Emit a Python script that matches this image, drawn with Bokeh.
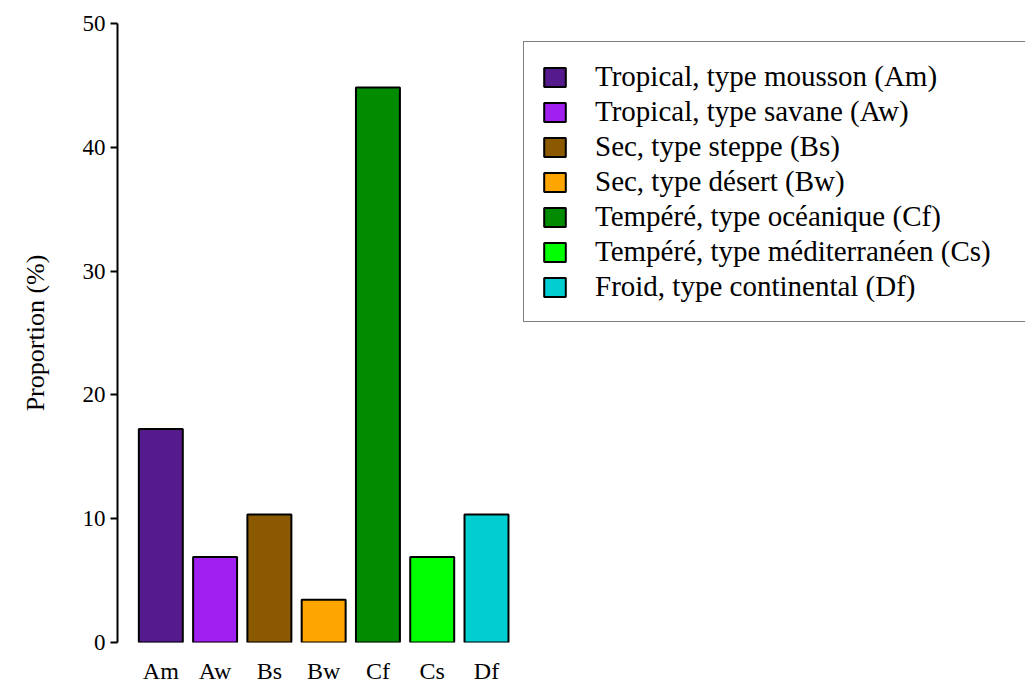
from bokeh.plotting import figure
from bokeh.models import (Range1d, FixedTicker, Legend, LegendItem,
                          ColumnDataSource)
from bokeh.embed import file_html
from bokeh.resources import INLINE

# ---- data ----
codes = ["Am", "Aw", "Bs", "Bw", "Cf", "Cs", "Df"]
values = [17.24, 6.90, 10.34, 3.45, 44.83, 6.90, 10.34]
colors = ["#551A8B", "#A020F0", "#8B5A00", "#FFA500", "#008B00", "#00FF00", "#00CED1"]
legend_labels = [
    "Tropical, type mousson (Am)",
    "Tropical, type savane (Aw)",
    "Sec, type steppe (Bs)",
    "Sec, type désert (Bw)",
    "Tempéré, type océanique (Cf)",
    "Tempéré, type méditerranéen (Cs)",
    "Froid, type continental (Df)",
]
y_ticks = [0, 10, 20, 30, 40, 50]
y_label = "Proportion (%)"

FONT = "Liberation Serif"
xs = list(range(len(codes)))

p = figure(width=1025, height=686, output_backend="svg", toolbar_location=None,
           x_range=Range1d(-0.798, 15.93), y_range=Range1d(0, 50),
           min_border_left=117, min_border_right=0, min_border_top=23,
           min_border_bottom=44)
p.outline_line_color = None
p.xgrid.visible = False
p.ygrid.visible = False
p.background_fill_color = "white"

source = ColumnDataSource(dict(x=xs, top=values, color=colors))
r = p.vbar(x="x", top="top", bottom=0, width=0.81, fill_color="color",
           line_color="black", line_width=2, source=source)

# y axis
ya = p.yaxis[0]
ya.ticker = FixedTicker(ticks=y_ticks, minor_ticks=[])
ya.major_label_text_font = FONT
ya.major_label_text_font_size = "23px"
ya.major_label_text_color = "black"
ya.major_tick_out = 7
ya.major_tick_in = 0
ya.minor_tick_out = 0
ya.minor_tick_in = 0
ya.axis_line_width = 2
ya.axis_line_color = "black"
ya.major_tick_line_width = 2
ya.major_tick_line_color = "black"
ya.major_label_standoff = 5
ya.axis_label = y_label
ya.axis_label_text_font = FONT
ya.axis_label_text_font_size = "26px"
ya.axis_label_text_font_style = "normal"
ya.axis_label_text_color = "black"
ya.axis_label_standoff = 30

# x axis (category labels only)
xa = p.xaxis[0]
xa.ticker = FixedTicker(ticks=xs, minor_ticks=[])
xa.major_label_overrides = {i: c for i, c in zip(xs, codes)}
xa.axis_line_color = None
xa.major_tick_line_color = None
xa.minor_tick_line_color = None
xa.major_label_text_font = FONT
xa.major_label_text_font_size = "24px"
xa.major_label_text_color = "black"
xa.major_label_standoff = 9

# legend
items = [LegendItem(label=legend_labels[i], renderers=[r], index=i) for i in xs]
legend = Legend(items=items, location=(406, 320), orientation="vertical",
                glyph_width=27, glyph_height=24, label_height=35, label_width=460,
                label_standoff=27, padding=17, spacing=0, margin=0,
                border_line_color="black", border_line_width=1.5,
                background_fill_color="white", background_fill_alpha=1.0,
                label_text_font=FONT, label_text_font_size="29px",
                label_text_color="black", label_text_baseline="middle")
p.add_layout(legend)

open("out.html", "w").write(file_html(p, INLINE))
